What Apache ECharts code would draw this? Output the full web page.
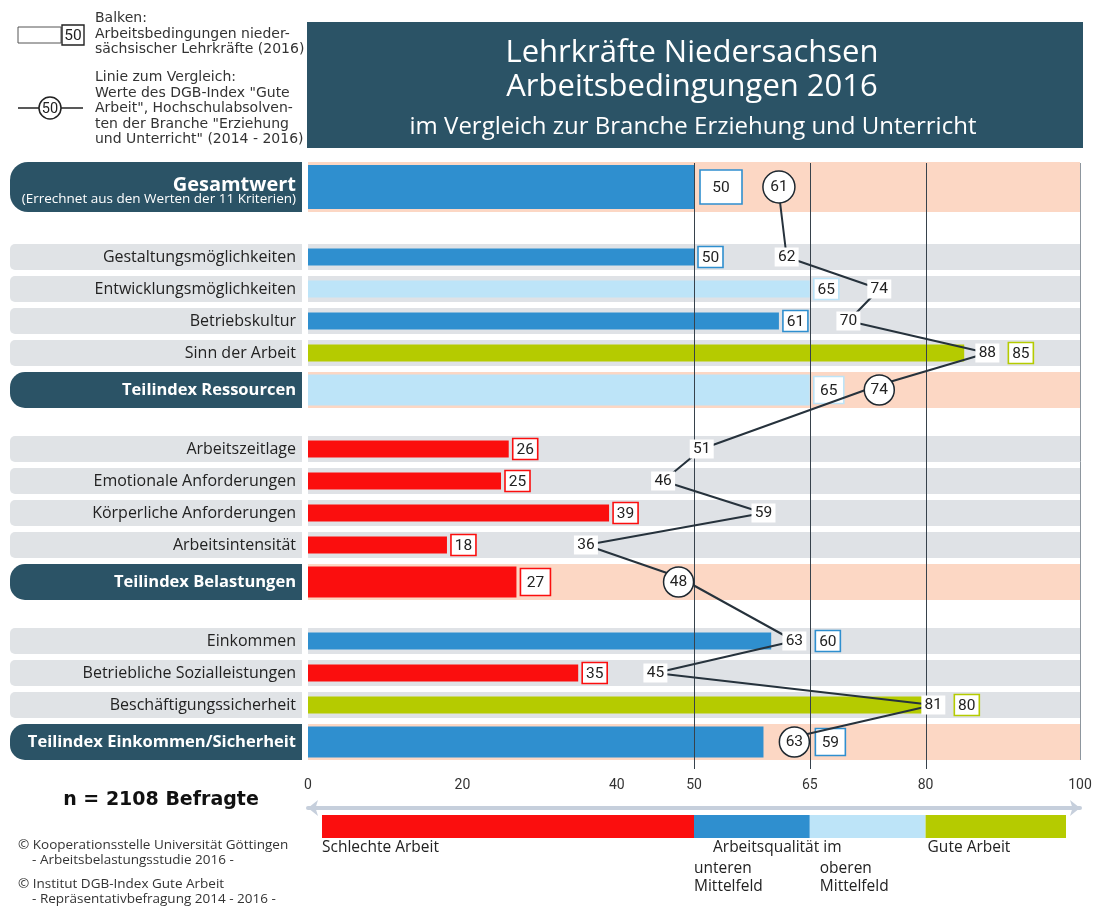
<!DOCTYPE html>
<html>
<head>
<meta charset="utf-8">
<title>Lehrkräfte Niedersachsen – Arbeitsbedingungen 2016</title>
<script src="https://cdn.jsdelivr.net/npm/echarts@6/dist/echarts.min.js"></script>
<style>
  html, body { margin: 0; padding: 0; background: #fff; }
  #chart { width: 1097px; height: 907px; }
</style>
</head>
<body>
<div id="chart"></div>
<script>
// rows from top to bottom, blank names mark empty spacer rows
const categories = [
  'Gesamtwert', '',
  'Gestaltungsmöglichkeiten', 'Entwicklungsmöglichkeiten', 'Betriebskultur', 'Sinn der Arbeit',
  'Teilindex Ressourcen', ' ',
  'Arbeitszeitlage', 'Emotionale Anforderungen', 'Körperliche Anforderungen', 'Arbeitsintensität',
  'Teilindex Belastungen', '  ',
  'Einkommen', 'Betriebliche Sozialleistungen', 'Beschäftigungssicherheit',
  'Teilindex Einkommen/Sicherheit'
];
const rowKinds = [
  'total', 'gap',
  'item', 'item', 'item', 'item', 'head', 'gap',
  'item', 'item', 'item', 'item', 'head', 'gap',
  'item', 'item', 'item', 'head'
];
// Balken: Lehrkräfte Niedersachsen 2016
const teacherValues = [50, null, 50, 65, 61, 85, 65, null, 26, 25, 39, 18, 27, null, 60, 35, 80, 59];
// Linie: DGB-Index Gute Arbeit, Branche Erziehung und Unterricht 2014-2016
const dgbValues = [61, null, 62, 74, 70, 88, 74, null, 51, 46, 59, 36, 48, null, 63, 45, 81, 63];

const zoneBounds = [0, 50, 65, 80, 100];
const zoneNames = ['Schlechte Arbeit', 'unteren\nMittelfeld', 'oberen\nMittelfeld', 'Gute Arbeit'];
const scaleTicks = [0, 20, 40, 50, 65, 80, 100];

const zoneColors = ['#fb0e0e', '#2f8fcf', '#bde4f8', '#b5cb00'];
const TEAL = '#2b5366';

function zoneColor(v) {
  for (let z = zoneBounds.length - 2; z >= 0; z--) {
    if (v >= zoneBounds[z]) return zoneColors[z];
  }
  return zoneColors[0];
}

const bandHeight = { total: 50, head: 36, item: 26 };
const barHeight = { total: 44, head: 31, item: 17 };
const boxSize = { total: [42, 34], head: [30, 27], item: [25, 21] };
const pillRadius = { total: 18, head: 15, item: 5 };
// headline rows sit a bit off their slot (more air above the sub-indices)
const rowShift = { total: -6, head: 5, item: 0, gap: 0 };

function renderBand(params, api) {
  const i = api.value(1);
  const kind = rowKinds[i];
  if (kind === 'gap') return;
  const p0 = api.coord([0, i]);
  const x1 = api.coord([100, i])[0];
  const h = bandHeight[kind];
  const y = p0[1] + rowShift[kind] - h / 2;
  const plain = kind === 'item';
  const r = pillRadius[kind];
  return {
    type: 'group',
    children: [
      {
        type: 'rect',
        shape: { x: p0[0] - 298, y: y, width: 292, height: h, r: [r, 0, 0, r] },
        style: { fill: plain ? '#e0e3e6' : TEAL }
      },
      {
        type: 'rect',
        shape: { x: p0[0], y: y, width: x1 - p0[0], height: h },
        style: { fill: plain ? '#dfe2e6' : '#fcd7c4' }
      }
    ]
  };
}

function renderBar(params, api) {
  const v = api.value(0);
  const i = api.value(1);
  const ref = api.value(2);
  const kind = rowKinds[i];
  const p0 = api.coord([0, i]);
  const xe = api.coord([v, i])[0];
  const yc = p0[1] + rowShift[kind];
  const h = barHeight[kind];
  const color = zoneColor(v);
  const bw = boxSize[kind][0], bh = boxSize[kind][1];
  // box moves behind the comparison label when that label sits right at the bar end
  let bx = xe + (kind === 'total' ? 6 : 4);
  if (ref - v >= 0 && ref - v < 5) bx = api.coord([ref, i])[0] + 21;
  return {
    type: 'group',
    children: [
      { type: 'rect', shape: { x: p0[0], y: yc - h / 2, width: xe - p0[0], height: h }, style: { fill: color } },
      { type: 'rect', shape: { x: bx, y: yc - bh / 2, width: bw, height: bh }, style: { fill: '#fff', stroke: color, lineWidth: 1.6 } },
      {
        type: 'text',
        style: { x: bx + bw / 2, y: yc + 1, text: String(v), align: 'center', verticalAlign: 'middle', fill: '#222', fontSize: 15.5, fontFamily: 'Roboto' }
      }
    ]
  };
}

function renderDivider(params, api) {
  const v = api.value(0);
  const x = Math.round(api.coord([v, 0])[0]) + 0.5;
  const cs = params.coordSys;
  const last = v === 100;
  return {
    type: 'line',
    shape: { x1: x, y1: cs.y - 14, x2: x, y2: cs.y + cs.height + (last ? 7 : 16) },
    style: { stroke: last ? '#8d969e' : '#37424c', lineWidth: 1 }
  };
}

function renderZone(params, api) {
  const a = api.value(0), b = api.value(1), z = api.value(2);
  const cs = params.coordSys;
  const first = z === 0, last = z === zoneColors.length - 1;
  const x0 = api.coord([a, 0])[0] + (first ? 14 : 0);
  const x1 = api.coord([b, 0])[0] - (last ? 14 : 0);
  const name = zoneNames[z];
  const twoLines = name.indexOf('\n') >= 0;
  return {
    type: 'group',
    children: [
      { type: 'rect', shape: { x: x0, y: cs.y + 7, width: x1 - x0, height: 23 }, style: { fill: zoneColors[z] } },
      {
        type: 'text',
        style: {
          x: x0 + (z === 2 ? 10 : (z === 3 ? 2 : 0)), y: twoLines ? cs.y + 52 : cs.y + 31,
          text: name, align: 'left', verticalAlign: 'top', lineHeight: 18,
          fill: '#222', fontSize: 15.5, fontFamily: 'Open Sans'
        }
      }
    ]
  };
}

const bandData = categories.map((c, i) => [100, i]);
const barData = [];
const linePoints = [];
categories.forEach((c, i) => {
  if (teacherValues[i] != null) barData.push([teacherValues[i], i, dgbValues[i]]);
  if (dgbValues[i] != null) {
    const k = rowKinds[i];
    const ring = k !== 'item';
    linePoints.push({
      value: [dgbValues[i], i],
      symbol: ring ? 'circle' : 'rect',
      symbolSize: ring ? (k === 'total' ? 32 : 30) : [24, 19],
      symbolOffset: [0, rowShift[k]],
      itemStyle: { color: '#fff', borderColor: ring ? '#1e2830' : '#fff', borderWidth: ring ? 1.5 : 0 }
    });
  }
});

const chart = echarts.init(document.getElementById('chart'));

chart.setOption({
  animation: false,
  backgroundColor: '#fff',
  textStyle: { fontFamily: 'Open Sans' },
  grid: [
    { left: 308, right: 17, top: 177, height: 576 },
    { left: 308, right: 17, top: 808, height: 30 }
  ],
  xAxis: [
    { type: 'value', gridIndex: 0, min: 0, max: 100, show: false },
    {
      type: 'value', gridIndex: 1, min: 0, max: 100, position: 'top',
      axisLine: {
        show: true, onZero: false,
        symbol: ['arrow', 'arrow'], symbolSize: [12, 10],
        lineStyle: { color: '#c6cfdc', width: 4 }
      },
      axisTick: { show: false },
      splitLine: { show: false },
      axisLabel: { customValues: scaleTicks, margin: 16, color: '#333', fontSize: 14, fontFamily: 'Roboto' }
    }
  ],
  yAxis: [
    {
      type: 'category', gridIndex: 0, data: categories, inverse: true, z: 10,
      axisLine: { show: false }, axisTick: { show: false }, splitLine: { show: false },
      axisLabel: {
        interval: 0,
        margin: 12,
        formatter: (v, i) => {
          const k = rowKinds[i];
          if (k === 'gap') return '';
          if (k === 'total') return '{t|' + v + '}\n{s|(Errechnet aus den Werten der 11 Kriterien)}';
          if (k === 'head') return '{h|' + v + '}';
          return '{n|' + v + '}';
        },
        rich: {
          t: { fontSize: 20, fontWeight: 'bold', color: '#fff', fontFamily: 'Open Sans', lineHeight: 24, align: 'right' },
          s: { fontSize: 13.5, color: '#fff', fontFamily: 'Open Sans', lineHeight: 16, align: 'right', padding: [0, 0, 12, 0] },
          h: { fontSize: 16.5, fontWeight: 'bold', color: '#fff', fontFamily: 'Open Sans', padding: [10, 0, 0, 0] },
          n: { fontSize: 16, color: '#222', fontFamily: 'Open Sans' }
        }
      }
    },
    { type: 'value', gridIndex: 1, min: 0, max: 1, show: false }
  ],
  series: [
    {
      type: 'custom', name: 'Hintergrund', xAxisIndex: 0, yAxisIndex: 0,
      renderItem: renderBand, data: bandData, encode: { x: 0, y: 1 },
      clip: false, silent: true, z: 1
    },
    {
      type: 'custom', name: 'Lehrkräfte Niedersachsen 2016', xAxisIndex: 0, yAxisIndex: 0,
      renderItem: renderBar, data: barData, encode: { x: 0, y: 1 },
      clip: false, z: 2
    },
    {
      type: 'custom', name: 'Grenzen', xAxisIndex: 0, yAxisIndex: 0,
      renderItem: renderDivider, data: zoneBounds.slice(1).map(v => [v, 0]), encode: { x: 0, y: 1 },
      clip: false, silent: true, z: 3
    },
    {
      type: 'line', name: 'DGB-Index Gute Arbeit', xAxisIndex: 0, yAxisIndex: 0,
      data: linePoints, showAllSymbol: true, z: 4,
      lineStyle: { color: '#26323c', width: 2 },
      label: {
        show: true, position: 'inside', formatter: p => p.value[0],
        color: '#222', fontSize: 15.5, fontFamily: 'Roboto'
      },
      emphasis: { disabled: true }
    },
    {
      type: 'custom', name: 'Skala', xAxisIndex: 1, yAxisIndex: 1,
      renderItem: renderZone,
      data: zoneColors.map((c, z) => [zoneBounds[z], zoneBounds[z + 1], z]),
      encode: { x: [0, 1] }, clip: false, silent: true
    }
  ],
  graphic: [
    // title block
    { type: 'rect', shape: { x: 307, y: 22, width: 776, height: 126 }, style: { fill: TEAL }, z: -1 },
    { type: 'text', x: 692, y: 53, style: { text: 'Lehrkräfte Niedersachsen', fill: '#fff', fontSize: 31, fontFamily: 'Open Sans', align: 'center', verticalAlign: 'middle' } },
    { type: 'text', x: 692, y: 87, style: { text: 'Arbeitsbedingungen 2016', fill: '#fff', fontSize: 31, fontFamily: 'Open Sans', align: 'center', verticalAlign: 'middle' } },
    { type: 'text', x: 693, y: 127, style: { text: 'im Vergleich zur Branche Erziehung und Unterricht', fill: '#fff', fontSize: 24, fontFamily: 'Open Sans', align: 'center', verticalAlign: 'middle' } },
    // legend: bar
    { type: 'rect', shape: { x: 18, y: 27, width: 43, height: 16 }, style: { fill: '#fff', stroke: '#555', lineWidth: 1 } },
    { type: 'rect', shape: { x: 62, y: 25, width: 22, height: 20 }, style: { fill: '#fff', stroke: '#222', lineWidth: 1.4 } },
    { type: 'text', x: 73, y: 36, style: { text: '50', fill: '#222', fontSize: 15.5, fontFamily: 'Roboto', align: 'center', verticalAlign: 'middle' } },
    { type: 'text', x: 95, y: 11, style: { text: 'Balken:\nArbeitsbedingungen nieder-\nsächsischer Lehrkräfte (2016)', fill: '#333', fontSize: 14, lineHeight: 15.5, fontFamily: 'DejaVu Sans' } },
    // legend: line
    { type: 'line', shape: { x1: 18, y1: 108, x2: 83, y2: 108 }, style: { stroke: '#222', lineWidth: 1.5 } },
    { type: 'circle', shape: { cx: 50, cy: 108, r: 11 }, style: { fill: '#fff', stroke: '#222', lineWidth: 1.5 } },
    { type: 'text', x: 50, y: 109, style: { text: '50', fill: '#222', fontSize: 14.5, fontFamily: 'Roboto', align: 'center', verticalAlign: 'middle' } },
    { type: 'text', x: 95, y: 70, style: { text: 'Linie zum Vergleich:\nWerte des DGB-Index "Gute\nArbeit", Hochschulabsolven-\nten der Branche "Erziehung\nund Unterricht" (2014 - 2016)', fill: '#333', fontSize: 14, lineHeight: 15.5, fontFamily: 'DejaVu Sans' } },
    // scale caption and footnotes
    { type: 'text', x: 713, y: 848, style: { text: 'Arbeitsqualität im', fill: '#222', fontSize: 15.5, fontFamily: 'Open Sans', verticalAlign: 'middle' } },
    { type: 'text', x: 161, y: 800, style: { text: 'n = 2108 Befragte', fill: '#111', fontSize: 19, fontWeight: 'bold', fontFamily: 'DejaVu Sans', align: 'center', verticalAlign: 'middle' } },
    { type: 'text', x: 18, y: 837, style: { text: '© Kooperationsstelle Universität Göttingen\n    - Arbeitsbelastungsstudie 2016 -', fill: '#333', fontSize: 13.5, lineHeight: 15.5, fontFamily: 'Open Sans' } },
    { type: 'text', x: 18, y: 876, style: { text: '© Institut DGB-Index Gute Arbeit\n    - Repräsentativbefragung 2014 - 2016 -', fill: '#333', fontSize: 13.5, lineHeight: 15.5, fontFamily: 'Open Sans' } }
  ]
});

window.addEventListener('resize', () => chart.resize());
</script>
</body>
</html>
